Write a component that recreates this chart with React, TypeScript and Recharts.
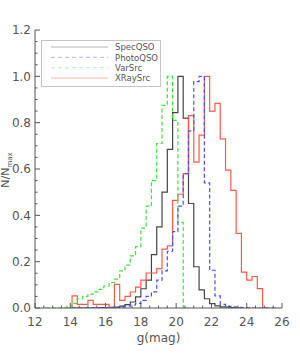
import React from 'react';
import { LineChart, Line, XAxis, YAxis, Legend } from 'recharts';

const binEdges = [
  12.0, 12.3, 12.6, 12.9, 13.2, 13.5, 13.8, 14.1, 14.4, 14.7,
  15.0, 15.3, 15.6, 15.9, 16.2, 16.5, 16.8, 17.1, 17.4, 17.7,
  18.0, 18.3, 18.6, 18.9, 19.2, 19.5, 19.8, 20.1, 20.4, 20.7,
  21.0, 21.3, 21.6, 21.9, 22.2, 22.5, 22.8, 23.1, 23.4, 23.7,
  24.0, 24.3, 24.6, 24.9, 25.2, 25.5, 25.8,
];

const specQSO = [
  null, null, null, null, null, null, null, 0, 0, 0,
  0, 0, 0.002, 0.002, 0.003, 0.004, 0.008, 0.015, 0.026, 0.048,
  0.083, 0.12, 0.23, 0.35, 0.5, 0.685, 0.843, 1.0, 0.82, 0.451,
  0.178, 0.078, 0.04, 0.019, 0.009, 0.005, 0.004, 0.002, 0.001, 0,
  null, null, null, null, null, null, null,
];

const photoQSO = [
  null, null, null, null, null, null, null, 0, 0, 0,
  0.001, 0.001, 0.001, 0.001, 0.002, 0.003, 0.005, 0.008, 0.013, 0.02,
  0.033, 0.05, 0.07, 0.12, 0.16, 0.245, 0.33, 0.44, 0.58, 0.765,
  0.977, 1.0, 0.54, 0.163, 0.052, 0.016, 0.007, 0.005, 0.003, 0.002,
  0.001, 0, 0, 0, 0, 0, 0,
];

const varSrc = [
  null, null, 0, 0, 0, 0.002, 0.005, 0.02, 0.04, 0.05,
  0.06, 0.07, 0.08, 0.095, 0.11, 0.125, 0.16, 0.185, 0.225, 0.265,
  0.345, 0.44, 0.55, 0.71, 0.875, 1.0, 0.81, 0.37, 0, 0,
  null, null, null, null, null, null, null, null, null, null,
  null, null, null, null, null, null, null,
];

const xraySrc = [
  null, null, null, null, null, null, 0, 0.052, 0.016, 0.016,
  0.033, 0.016, 0.016, 0.016, 0.002, 0.102, 0.033, 0.05, 0.069, 0.09,
  0.12, 0.151, 0.151, 0.17, 0.254, 0.268, 0.465, 0.491, 0.58, 0.83,
  0.63, 0.746, 1.0, 0.85, 0.883, 0.73, 0.595, 0.508, 0.322, 0.155,
  0.12, 0.136, 0.084, 0, 0, null, null,
];

const xTicks = [
  12, 12.5, 13, 13.5, 14, 14.5, 15, 15.5, 16, 16.5, 17, 17.5, 18, 18.5,
  19, 19.5, 20, 20.5, 21, 21.5, 22, 22.5, 23, 23.5, 24, 24.5, 25, 25.5, 26,
];
const xLabels = [12, 14, 16, 18, 20, 22, 24, 26];
const yTicks = [
  0, 0.05, 0.1, 0.15, 0.2, 0.25, 0.3, 0.35, 0.4, 0.45, 0.5, 0.55, 0.6,
  0.65, 0.7, 0.75, 0.8, 0.85, 0.9, 0.95, 1.0, 1.05, 1.1, 1.15, 1.2,
];
const yLabels = [0, 0.2, 0.4, 0.6, 0.8, 1.0, 1.2];

const seriesNames = ['SpecQSO', 'PhotoQSO', 'VarSrc', 'XRaySrc'];

const data = binEdges.map((m, i) => ({
  m,
  spec: specQSO[i],
  photo: photoQSO[i],
  vr: varSrc[i],
  xr: xraySrc[i],
}));

const AXIS = '#555555';
const TEXT = '#555555';
const FONT = 'DejaVu Sans';

const BottomTick = (props: any) => {
  const { x, y, payload } = props;
  const major = xLabels.includes(payload.value);
  return (
    <g>
      <line x1={x} y1={y} x2={x} y2={y - (major ? 5 : 2.5)} stroke={AXIS} strokeWidth={1} />
      {major && (
        <text x={x} y={y + 18} textAnchor="middle" fill={TEXT} fontSize={12} fontFamily={FONT}>
          {payload.value}
        </text>
      )}
    </g>
  );
};

const TopTick = (props: any) => {
  const { x, y, payload } = props;
  const major = xLabels.includes(payload.value);
  return <line x1={x} y1={y} x2={x} y2={y + (major ? 5 : 2.5)} stroke={AXIS} strokeWidth={1} />;
};

const LeftTick = (props: any) => {
  const { x, y, payload } = props;
  const major = yLabels.includes(payload.value);
  return (
    <g>
      <line x1={x} y1={y} x2={x + (major ? 5 : 2.5)} y2={y} stroke={AXIS} strokeWidth={1} />
      {major && (
        <text x={x - 4} y={y + 4.4} textAnchor="end" fill={TEXT} fontSize={12} fontFamily={FONT}>
          {Number(payload.value).toFixed(1)}
        </text>
      )}
    </g>
  );
};

const RightTick = (props: any) => {
  const { x, y, payload } = props;
  const major = yLabels.includes(payload.value);
  return <line x1={x} y1={y} x2={x - (major ? 5 : 2.5)} y2={y} stroke={AXIS} strokeWidth={1} />;
};

const legendStyles = [
  { color: '#b4b4b4', dash: undefined },
  { color: '#b4b4ff', dash: '4 3' },
  { color: '#b4f4b4', dash: '4 3' },
  { color: '#ffb0a6', dash: undefined },
];

const LegendBox = () => (
  <svg width={121} height={48} style={{ display: 'block' }}>
    <rect x={0.5} y={0.5} width={119} height={46} fill="white" stroke="#c4c4c4" strokeWidth={1} />
    {seriesNames.map((name, i) => {
      const cy = 7 + i * 10.35;
      return (
        <g key={name}>
          <line x1={10} y1={cy} x2={67} y2={cy} stroke={legendStyles[i].color} strokeWidth={1} strokeDasharray={legendStyles[i].dash} />
          <text x={74} y={cy + 3.2} fill="#555" fontSize={8.5} fontFamily={FONT}>{name}</text>
        </g>
      );
    })}
  </svg>
);

const XLabel = (props: any) => {
  const vb = props.viewBox || { x: 35, y: 308, width: 247, height: 46 };
  return (
    <text x={vb.x + vb.width / 2} y={vb.y + 34} textAnchor="middle" fill={TEXT} fontSize={12} fontFamily={FONT}>
      g(mag)
    </text>
  );
};

const YLabel = (props: any) => {
  const vb = props.viewBox || { x: 0, y: 30, width: 35, height: 278 };
  const cx = vb.x + 9;
  const cy = vb.y + vb.height / 2 + 1;
  return (
    <text transform={`translate(${cx},${cy}) rotate(-90)`} textAnchor="middle" fill={TEXT} fontSize={11} fontFamily={FONT}>
      N/N<tspan dy={2.5} fontSize={7}>max</tspan>
    </text>
  );
};

export default function App() {
  return (
    <div style={{ position: 'absolute', left: 0, top: 0, width: 300, height: 354, background: 'white' }}>
      <LineChart width={300} height={354} data={data} margin={{ top: 30, right: 18, bottom: 0, left: 0 }}>
        <XAxis
          dataKey="m"
          type="number"
          domain={[12, 26]}
          ticks={xTicks}
          interval={0}
          allowDataOverflow
          height={46}
          tickSize={0}
          tickMargin={0}
          tickLine={false}
          tick={<BottomTick />}
          axisLine={{ stroke: AXIS, strokeWidth: 1 }}
          label={{ content: <XLabel /> }}
        />
        <XAxis
          xAxisId="top"
          orientation="top"
          dataKey="m"
          type="number"
          domain={[12, 26]}
          ticks={xTicks}
          interval={0}
          allowDataOverflow
          height={0}
          tickSize={0}
          tickMargin={0}
          tickLine={false}
          tick={<TopTick />}
          axisLine={{ stroke: AXIS, strokeWidth: 1 }}
        />
        <YAxis
          type="number"
          domain={[0, 1.2]}
          ticks={yTicks}
          interval={0}
          allowDataOverflow
          width={35}
          tickSize={0}
          tickMargin={0}
          tickLine={false}
          tick={<LeftTick />}
          axisLine={{ stroke: AXIS, strokeWidth: 1 }}
          label={{ content: <YLabel /> }}
        />
        <YAxis
          yAxisId="right"
          orientation="right"
          type="number"
          domain={[0, 1.2]}
          ticks={yTicks}
          interval={0}
          allowDataOverflow
          width={0}
          tickSize={0}
          tickMargin={0}
          tickLine={false}
          tick={<RightTick />}
          axisLine={{ stroke: AXIS, strokeWidth: 1 }}
        />
        <Legend
          layout="vertical"
          align="center"
          verticalAlign="middle"
          content={() => <LegendBox />}
          wrapperStyle={{ position: 'absolute', left: 41, top: 39.5, width: 121, height: 48 }}
        />
        <Line type="stepAfter" dataKey="spec" name="SpecQSO" stroke="#444444" strokeWidth={1.2} dot={false} activeDot={false} isAnimationActive={false} />
        <Line type="stepAfter" dataKey="xr" name="XRaySrc" stroke="#ff5a48" strokeWidth={1.2} dot={false} activeDot={false} isAnimationActive={false} />
        <Line type="stepAfter" dataKey="vr" name="VarSrc" stroke="#3ee03e" strokeWidth={1.2} strokeDasharray="4 2.5" dot={false} activeDot={false} isAnimationActive={false} />
        <Line type="stepAfter" dataKey="photo" name="PhotoQSO" stroke="#4c4cff" strokeWidth={1.2} strokeDasharray="4 2.5" dot={false} activeDot={false} isAnimationActive={false} />
      </LineChart>
    </div>
  );
}
